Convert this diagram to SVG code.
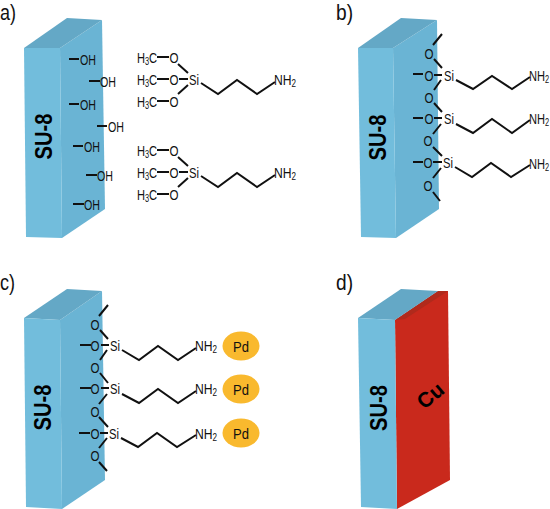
<svg xmlns="http://www.w3.org/2000/svg" width="550" height="509" viewBox="0 0 550 509">
<style>
.front{fill:#72bddc}.side{fill:#6ab4d4}.top{fill:#64a8c6}
.red{fill:#c9291c}.redtop{fill:#b02a1c}
.b{fill:none;stroke:#111;stroke-width:2}
.t{font-family:"Liberation Sans",Arial,sans-serif;fill:#111;font-size:15px;text-anchor:middle}
.lab{font-family:"Liberation Sans",Arial,sans-serif;fill:#111;font-size:22px}
.su{font-family:"Liberation Sans",Arial,sans-serif;fill:#000;font-size:23px;font-weight:bold;text-anchor:middle}
.sub{font-size:10px}
.pd{fill:#f9b92e}
</style>
<rect width="550" height="509" fill="#fff"/>
<g id="label-a"><text class="lab" x="0" y="20" textLength="16" lengthAdjust="spacingAndGlyphs">a)</text></g>
<g id="label-b"><text class="lab" x="336" y="20" textLength="17" lengthAdjust="spacingAndGlyphs">b)</text></g>
<g id="label-c"><text class="lab" x="0" y="290" textLength="15" lengthAdjust="spacingAndGlyphs">c)</text></g>
<g id="label-d"><text class="lab" x="336" y="290" textLength="17" lengthAdjust="spacingAndGlyphs">d)</text></g>

<g id="block-a">
<polygon class="side" points="60,48 102,20 105,209 62,238"/>
<polygon class="top" points="24,48 67,18 102,20 60,48"/>
<polygon class="front" points="24,48 60,48 62,238 26,237"/>
<text class="su" transform="translate(51.5,136.5) rotate(-90)" textLength="46" lengthAdjust="spacingAndGlyphs">SU-8</text>
</g>
<g id="block-b">
<polygon class="side" points="393,48 437,20 439,209 396,238"/>
<polygon class="top" points="358,48 401,18 437,20 393,48"/>
<polygon class="front" points="358,48 393,48 396,238 361,237"/>
<text class="su" transform="translate(385.5,137.5) rotate(-90)" textLength="46" lengthAdjust="spacingAndGlyphs">SU-8</text>
</g>
<g id="block-c">
<polygon class="side" points="60,320 102,291 105,480 62,509"/>
<polygon class="top" points="24,318 67,289 102,291 60,320"/>
<polygon class="front" points="24,318 60,320 62,509 26,507"/>
<text class="su" transform="translate(51,407.5) rotate(-90)" textLength="46" lengthAdjust="spacingAndGlyphs">SU-8</text>
</g>
<g id="block-d">
<polygon class="red" points="395,320 438,291 448,291 450,480 397,509"/>
<polygon class="redtop" points="395,320 438,291 448,291 405,319"/>
<polygon class="top" points="358,318 401,289 438,291 395,320"/>
<polygon class="front" points="358,318 395,320 397,509 361,507"/>
<text class="su" transform="translate(387,408) rotate(-90)" textLength="46" lengthAdjust="spacingAndGlyphs">SU-8</text>
<text class="su" style="font-size:21px" transform="translate(435,401) rotate(-40)">Cu</text>
</g>

<g id="connectors">
<path class="b" d="M69 59H79M89 81H100M69 104H79M97 126H107M73 146H83M86 175H97M73 204H84"/>
<path class="b" d="M157 57H169M157 79H169M157 101H169M178 64L188 73M179 79H188M178 94L188 85M201 83L218 94L237 80L257 94L275 82"/>
<path class="b" d="M157 150H169M157 172H169M157 194H169M178 157L188 166M179 172H188M178 187L188 178M201 176L218 187L237 173L257 187L275 175"/>
<g id="chains-b">
<path class="b" d="M442 34L433 45M434 59L442 68M413 74H423M434 75H442M456 80L473 89L492 76L512 89L530 77"/>
<path class="b" d="M441 80L434 90M434 103L442 112M413 118H423M434 118H442M456 124L473 133L492 119L512 133L530 120"/>
<path class="b" d="M441 124L433 134M433 147L442 156M413 162H423M433 162H442M455 167L472 177L491 163L511 177L530 165"/>
<path class="b" d="M441 168L433 178M433 192L440 201"/>
</g>
<g id="chains-c">
<path class="b" d="M108 305L99 316M100 330L108 339M80 345H91M101 345H109M122 350L139 360L158 346L178 360L196 348"/>
<path class="b" d="M107 350L100 360M100 373L108 383M80 388H91M101 388H109M122 394L139 403L158 389L178 403L196 391"/>
<path class="b" d="M107 394L99 404M99 417L108 427M79 433H90M100 433H108M121 438L138 447L157 433L177 447L196 435"/>
<path class="b" d="M107 438L99 448M99 462L107 471"/>
</g>
</g>

<g id="hydroxyls-a">
<text class="t" x="88" y="64.5" textLength="16" lengthAdjust="spacingAndGlyphs">OH</text><text class="t" x="108" y="86.5" textLength="16" lengthAdjust="spacingAndGlyphs">OH</text><text class="t" x="88" y="109.5" textLength="16" lengthAdjust="spacingAndGlyphs">OH</text><text class="t" x="116" y="131.5" textLength="16" lengthAdjust="spacingAndGlyphs">OH</text><text class="t" x="92" y="151.5" textLength="16" lengthAdjust="spacingAndGlyphs">OH</text><text class="t" x="105" y="180.5" textLength="16" lengthAdjust="spacingAndGlyphs">OH</text><text class="t" x="92" y="209.5" textLength="16" lengthAdjust="spacingAndGlyphs">OH</text>
</g>
<g id="silane-a1">
<text class="t" transform="translate(147,62.5) scale(.74,1)">H<tspan class="sub" dy="2">3</tspan><tspan dy="-2">C</tspan></text><text class="t" x="174" y="62.5" textLength="9" lengthAdjust="spacingAndGlyphs">O</text>
<text class="t" transform="translate(147,84.5) scale(.74,1)">H<tspan class="sub" dy="2">3</tspan><tspan dy="-2">C</tspan></text><text class="t" x="174" y="84.5" textLength="9" lengthAdjust="spacingAndGlyphs">O</text>
<text class="t" transform="translate(147,106.5) scale(.74,1)">H<tspan class="sub" dy="2">3</tspan><tspan dy="-2">C</tspan></text><text class="t" x="174" y="106.5" textLength="9" lengthAdjust="spacingAndGlyphs">O</text>
<text class="t" x="194" y="84.5" textLength="10" lengthAdjust="spacingAndGlyphs">Si</text>
<text class="t" transform="translate(285,84.5) scale(.81,1)">NH<tspan class="sub" dy="2">2</tspan></text>
</g>
<g id="silane-a2">
<text class="t" transform="translate(147,155.5) scale(.74,1)">H<tspan class="sub" dy="2">3</tspan><tspan dy="-2">C</tspan></text><text class="t" x="174" y="155.5" textLength="9" lengthAdjust="spacingAndGlyphs">O</text>
<text class="t" transform="translate(147,177.5) scale(.74,1)">H<tspan class="sub" dy="2">3</tspan><tspan dy="-2">C</tspan></text><text class="t" x="174" y="177.5" textLength="9" lengthAdjust="spacingAndGlyphs">O</text>
<text class="t" transform="translate(147,199.5) scale(.74,1)">H<tspan class="sub" dy="2">3</tspan><tspan dy="-2">C</tspan></text><text class="t" x="174" y="199.5" textLength="9" lengthAdjust="spacingAndGlyphs">O</text>
<text class="t" x="194" y="177.5" textLength="10" lengthAdjust="spacingAndGlyphs">Si</text>
<text class="t" transform="translate(285,177.5) scale(.81,1)">NH<tspan class="sub" dy="2">2</tspan></text>
</g>
<g id="silane-b">
<text class="t" x="429" y="58.5" textLength="9" lengthAdjust="spacingAndGlyphs">O</text><text class="t" x="429" y="80.5" textLength="9" lengthAdjust="spacingAndGlyphs">O</text><text class="t" x="429" y="102.5" textLength="9" lengthAdjust="spacingAndGlyphs">O</text><text class="t" x="429" y="123.5" textLength="9" lengthAdjust="spacingAndGlyphs">O</text><text class="t" x="428" y="145.5" textLength="9" lengthAdjust="spacingAndGlyphs">O</text><text class="t" x="428" y="167.5" textLength="9" lengthAdjust="spacingAndGlyphs">O</text><text class="t" x="428" y="190.5" textLength="9" lengthAdjust="spacingAndGlyphs">O</text>
<text class="t" x="449" y="80.5" textLength="10" lengthAdjust="spacingAndGlyphs">Si</text><text class="t" x="449" y="123.5" textLength="10" lengthAdjust="spacingAndGlyphs">Si</text><text class="t" x="448" y="167.5" textLength="10" lengthAdjust="spacingAndGlyphs">Si</text>
<text class="t" transform="translate(539,81) scale(.74,1)">NH<tspan class="sub" dy="2">2</tspan></text><text class="t" transform="translate(539,124) scale(.74,1)">NH<tspan class="sub" dy="2">2</tspan></text><text class="t" transform="translate(539,169) scale(.74,1)">NH<tspan class="sub" dy="2">2</tspan></text>
</g>
<g id="silane-c">
<text class="t" x="95" y="329.5" textLength="9" lengthAdjust="spacingAndGlyphs">O</text><text class="t" x="95" y="350.5" textLength="9" lengthAdjust="spacingAndGlyphs">O</text><text class="t" x="95" y="372.5" textLength="9" lengthAdjust="spacingAndGlyphs">O</text><text class="t" x="95" y="393.5" textLength="9" lengthAdjust="spacingAndGlyphs">O</text><text class="t" x="95" y="416.5" textLength="9" lengthAdjust="spacingAndGlyphs">O</text><text class="t" x="95" y="438.5" textLength="9" lengthAdjust="spacingAndGlyphs">O</text><text class="t" x="95" y="460.5" textLength="9" lengthAdjust="spacingAndGlyphs">O</text>
<text class="t" x="115" y="350.5" textLength="10" lengthAdjust="spacingAndGlyphs">Si</text><text class="t" x="115" y="393.5" textLength="10" lengthAdjust="spacingAndGlyphs">Si</text><text class="t" x="114" y="438.5" textLength="10" lengthAdjust="spacingAndGlyphs">Si</text>
<text class="t" transform="translate(206,351) scale(.81,1)">NH<tspan class="sub" dy="2">2</tspan></text><text class="t" transform="translate(206,394) scale(.81,1)">NH<tspan class="sub" dy="2">2</tspan></text><text class="t" transform="translate(206,439) scale(.81,1)">NH<tspan class="sub" dy="2">2</tspan></text>
</g>
<g id="pd-1"><ellipse class="pd" cx="241" cy="346" rx="18.5" ry="14.5"/><text class="t" x="241" y="351.5" textLength="16" lengthAdjust="spacingAndGlyphs">Pd</text></g>
<g id="pd-2"><ellipse class="pd" cx="241" cy="389" rx="18.5" ry="14.5"/><text class="t" x="241" y="394.5" textLength="16" lengthAdjust="spacingAndGlyphs">Pd</text></g>
<g id="pd-3"><ellipse class="pd" cx="241" cy="433" rx="18.5" ry="14.5"/><text class="t" x="241" y="438.5" textLength="16" lengthAdjust="spacingAndGlyphs">Pd</text></g>
</svg>
